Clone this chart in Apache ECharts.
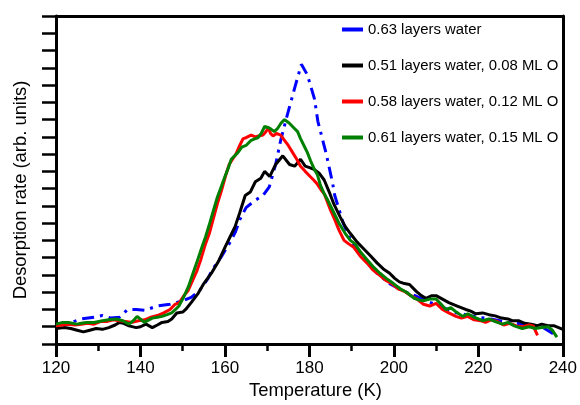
<!DOCTYPE html>
<html>
<head>
<meta charset="utf-8">
<script src="https://cdn.jsdelivr.net/npm/echarts@6/dist/echarts.min.js"></script>
<style>
html,body{margin:0;padding:0;background:#fff;}
#c{width:580px;height:405px;}
</style>
</head>
<body>
<div id="c"></div>
<script>
// Series names
var seriesNames = [
  "0.63 layers water",
  "0.51 layers water, 0.08 ML O",
  "0.58 layers water, 0.12 ML O",
  "0.61 layers water, 0.15 ML O"
];
// x-axis tick labels (K)
var xTicks = [120, 140, 160, 180, 200, 220, 240];

// [Temperature K, desorption rate (arb.)]
var blueData = [[120,0.1],[123,0.2],[126,0.45],[129,0.55],[131,0.65],[133,0.5],[135,0.55],[137,1.0],[139,1.0],[141,0.95],[144,1.2],[147,1.3],[150,1.5],[152,1.7],[154,2.1],[156,2.8],[157,3.3],[159,4.0],[161,4.8],[162.5,5.5],[163.5,6.2],[165,6.9],[167,7.3],[169,7.6],[170.5,8.1],[172,9.4],[173.2,10.8],[174.8,12.3],[176.7,14.0],[178.1,15.2],[179.5,14.6],[181.2,13.2],[182,11.9],[184,10.0],[185.5,8.3],[186,7.6],[188,6.0],[190,4.9],[193,3.9],[196,3.1],[199,2.5],[202,2.1],[205,1.8],[208,1.45],[211,1.2],[214,0.85],[217,0.7],[220,0.55],[223,0.45],[226,0.3],[229,0.2],[232,0.1],[235,0.0],[237.7,-0.4]];

var blackData = [[120,-0.1],[122,-0.05],[123.5,-0.1],[125,-0.2],[126.5,-0.3],[128,-0.2],[129.5,-0.1],[131,-0.15],[132.5,-0.05],[134,0.1],[135,0.25],[136,0.2],[137.3,0.05],[139,-0.05],[140,0.0],[141.3,0.15],[142.8,-0.05],[144,0.1],[145.1,0.25],[146.5,0.3],[147.4,0.45],[148.6,0.8],[150,0.85],[150.7,1.0],[152,1.4],[153.7,1.95],[155,2.5],[156.8,3.1],[158.5,3.8],[160,4.6],[161.2,5.2],[162.4,5.8],[163.5,6.6],[164.8,7.6],[166,7.8],[167.2,8.4],[168.5,8.6],[169.4,9.0],[170.6,8.7],[172,9.4],[173.7,9.9],[175.3,9.4],[176.5,9.3],[177.9,9.7],[179,9.3],[180.2,9.2],[181.2,9.1],[182.3,8.9],[183.5,8.5],[184.7,7.8],[185.8,7.1],[187.3,6.35],[188.5,5.8],[189.7,5.4],[191.3,4.9],[192.9,4.5],[194.5,4.1],[196,3.7],[197.5,3.35],[199,3.1],[200.2,2.8],[201.3,2.6],[202.5,2.5],[203.7,2.45],[205.3,2.05],[206.5,1.8],[207.6,1.65],[209,1.8],[210,1.8],[211.5,1.6],[213,1.4],[215,1.2],[217,1.0],[218.2,0.9],[219.4,0.75],[221,0.8],[222.5,0.7],[224,0.63],[225.5,0.5],[227,0.45],[228,0.35],[229.5,0.35],[231,0.2],[232.5,0.15],[234,0.06],[235,0.15],[236.5,0.06],[238,0.05],[239,-0.05],[240,-0.15]];

var redData = [[120,0.05],[121.5,0.1],[123,0.15],[124.5,0.1],[126,0.15],[127.5,0.2],[129,0.15],[130.5,0.3],[132,0.3],[133.5,0.4],[135,0.35],[136.5,0.3],[138,0.25],[139.5,0.35],[141,0.4],[142.5,0.55],[144,0.65],[145.5,0.8],[147,1.0],[148.2,1.3],[149.2,1.4],[150.3,1.8],[151.3,2.1],[152.2,2.6],[153.3,3.2],[154.3,3.9],[155.4,4.8],[156.3,5.4],[157.3,6.3],[158.3,7.2],[159.2,7.9],[160.1,8.7],[161,9.4],[161.8,9.7],[162.6,10.0],[163.5,10.5],[164.3,10.9],[165,10.95],[166.2,11.1],[167.2,11.0],[168,11.05],[169,11.1],[169.7,11.3],[170.3,11.5],[170.8,11.2],[171.4,11.05],[172.2,11.2],[173.2,11.1],[174.1,10.8],[175,10.5],[176,10.1],[177,9.7],[177.9,9.3],[179,9.0],[180,8.75],[181,8.5],[181.9,8.25],[182.7,7.95],[183.5,7.7],[184.3,7.2],[185,6.75],[186,6.2],[187,5.6],[188.2,5.0],[189.3,4.8],[190.5,4.6],[192,4.1],[193.6,3.7],[195,3.3],[196.5,3.0],[198,2.7],[199.5,2.5],[201,2.2],[202.5,2.05],[204,1.8],[205.5,1.6],[207,1.3],[208.5,1.2],[210,1.35],[211.5,1.0],[213,0.8],[214.7,0.6],[216,0.5],[217.5,0.6],[219,0.4],[220.5,0.35],[221.7,0.25],[223,0.4],[224.5,0.3],[226,0.1],[227.5,0.2],[229,0.05],[230.5,0.0],[232,0.1],[233,0.05],[234,-0.5]];

var greenData = [[120,0.15],[121.6,0.25],[123,0.25],[124.9,0.15],[126,0.2],[127.2,0.25],[129,0.25],[131,0.35],[132.5,0.4],[134.3,0.45],[135.8,0.35],[137.3,0.15],[138.3,0.35],[139.2,0.6],[140.2,0.4],[140.9,0.25],[142,0.4],[142.8,0.5],[144,0.55],[145.1,0.6],[146.3,0.7],[147.4,0.8],[148.3,1.0],[149.1,1.2],[150.2,1.7],[151.4,2.35],[152.3,3.0],[153.3,3.7],[154.4,4.5],[155.4,5.2],[156.4,6.0],[157.3,6.75],[158.2,7.5],[159.1,8.1],[160,8.7],[160.8,9.2],[161.5,9.7],[162.3,9.9],[163.1,10.1],[164,10.4],[165,10.5],[166.2,10.8],[167.2,10.9],[167.8,10.95],[168.6,11.2],[169.4,11.6],[170.2,11.55],[170.9,11.45],[171.7,11.3],[172.5,11.5],[173.3,11.8],[174.1,12.0],[175.2,11.8],[176.4,11.5],[177.2,11.3],[177.9,10.9],[178.7,10.5],[179.5,10.1],[180.3,9.6],[181.2,9.1],[181.9,8.8],[182.6,8.2],[183.5,7.7],[184.2,7.4],[185,7.0],[186,6.5],[187,6.0],[188.5,5.4],[189.7,5.0],[190.8,4.8],[192.2,4.3],[193.6,3.9],[195,3.5],[196.7,3.1],[198.2,2.8],[199.9,2.5],[201.5,2.2],[203,2.0],[204.8,1.65],[206,1.55],[207,1.5],[208.5,1.6],[210,1.6],[211.2,1.3],[212.3,1.0],[213.5,1.1],[214.5,0.9],[216.3,0.6],[217.5,0.75],[219,0.55],[221,0.35],[222.5,0.45],[224,0.3],[225.7,0.15],[227,0.25],[228.5,0.05],[230.4,-0.1],[232,0.0],[233.5,-0.1],[235,-0.05],[236.5,0.0],[237.5,-0.2],[238.6,-0.6]];

var colors = ['#0000ff', '#000000', '#ff0000', '#008000'];
var FONT = '"Liberation Sans", Arial, sans-serif';

var chart = echarts.init(document.getElementById('c'), null, {renderer: 'canvas'});

function lineSeries(i, data, dash) {
  return {
    name: seriesNames[i],
    type: 'line',
    data: data,
    showSymbol: false,
    symbol: 'none',
    smooth: false,
    z: 10 + i,
    lineStyle: {color: colors[i], width: 3, type: dash || 'solid'},
    itemStyle: {color: colors[i]}
  };
}

var option = {
  animation: false,
  backgroundColor: '#ffffff',
  grid: {left: 56, right: 12, top: 16, bottom: 57, containLabel: false},
  legend: {
    orient: 'vertical',
    left: 337,
    top: 17,
    icon: 'rect',
    itemWidth: 21,
    itemHeight: 4,
    itemGap: 21,
    data: seriesNames,
    textStyle: {fontFamily: FONT, fontSize: 14.9, color: '#000', lineHeight: 15}
  },
  xAxis: [{
    type: 'value',
    min: xTicks[0],
    max: xTicks[xTicks.length - 1],
    interval: 20,
    position: 'bottom',
    name: 'Temperature (K)',
    nameLocation: 'middle',
    nameGap: 38,
    nameTextStyle: {fontFamily: FONT, fontSize: 18.4, color: '#000', padding: [0, 0, 0, 12]},
    axisLine: {show: true, onZero: false, lineStyle: {color: '#000', width: 3}},
    axisTick: {show: true, inside: false, length: 13, lineStyle: {color: '#000', width: 3}},
    minorTick: {show: true, splitNumber: 2, length: 7, lineStyle: {color: '#000', width: 2.5}},
    axisLabel: {show: true, margin: 16, fontFamily: FONT, fontSize: 17, color: '#000'},
    splitLine: {show: false}
  }, {
    type: 'value',
    min: xTicks[0],
    max: xTicks[xTicks.length - 1],
    position: 'top',
    axisLine: {show: true, onZero: false, lineStyle: {color: '#000', width: 3}},
    axisTick: {show: false},
    axisLabel: {show: false},
    splitLine: {show: false}
  }],
  yAxis: [{
    type: 'value',
    min: -1,
    max: 18,
    interval: 1,
    position: 'left',
    name: 'Desorption rate (arb. units)',
    nameLocation: 'middle',
    nameGap: 26,
    nameRotate: 90,
    nameTextStyle: {fontFamily: FONT, fontSize: 18.4, color: '#000', padding: [0, 20, 0, 0]},
    axisLine: {show: true, onZero: false, lineStyle: {color: '#000', width: 3}},
    axisTick: {show: true, inside: false, length: 14, lineStyle: {color: '#000', width: 2.5}},
    axisLabel: {show: false},
    splitLine: {show: false}
  }, {
    type: 'value',
    min: -1,
    max: 18,
    position: 'right',
    axisLine: {show: true, onZero: false, lineStyle: {color: '#000', width: 3}},
    axisTick: {show: false},
    axisLabel: {show: false},
    splitLine: {show: false}
  }],
  series: [
    lineSeries(0, blueData, [12, 6, 3, 6]),
    lineSeries(1, blackData),
    lineSeries(2, redData),
    lineSeries(3, greenData)
  ]
};
chart.setOption(option);
</script>
</body>
</html>
